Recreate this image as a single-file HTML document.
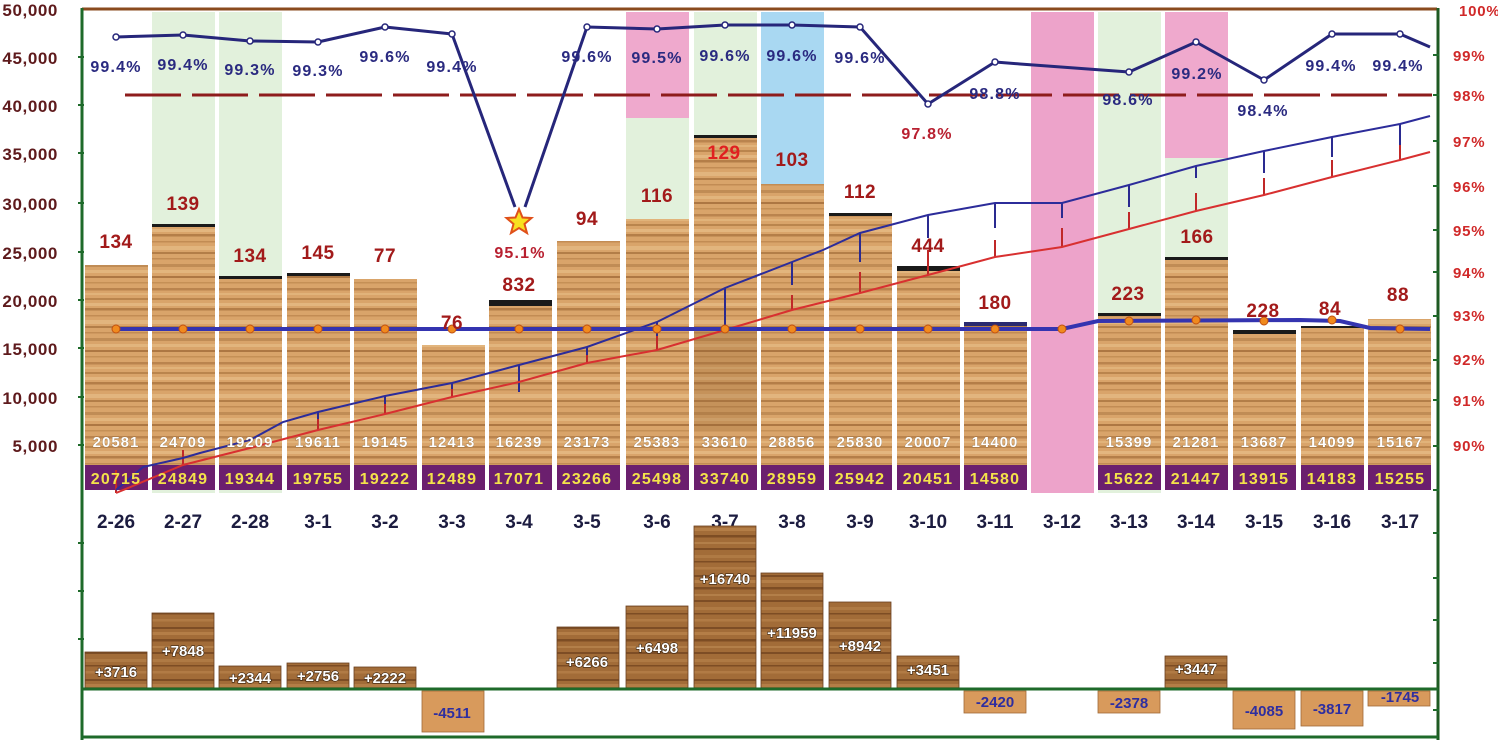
<!DOCTYPE html>
<html><head><meta charset="utf-8"><style>
html,body{margin:0;padding:0;background:#fff;}
svg{display:block;}
text{font-family:"Liberation Sans",Arial,sans-serif;font-weight:bold;}
</style></head><body>
<svg width="1498" height="741" viewBox="0 0 1498 741" xmlns="http://www.w3.org/2000/svg">
<defs>
<pattern id="w1" width="63" height="74" patternUnits="userSpaceOnUse">
<rect width="63" height="74" fill="#d9a46a"/>
<rect y="2" width="63" height="2" fill="#b07a42" opacity=".75"/>
<rect y="7" width="63" height="3" fill="#e8be88" opacity=".7"/>
<rect y="12" width="63" height="2.5" fill="#a06a36" opacity=".65"/>
<rect y="19" width="63" height="1.5" fill="#b8824a" opacity=".7"/>
<rect y="24" width="63" height="4" fill="#e6bc86" opacity=".7"/>
<rect y="30" width="63" height="2" fill="#9a6432" opacity=".6"/>
<rect y="36" width="63" height="1.5" fill="#b8824a" opacity=".7"/>
<rect y="42" width="63" height="3" fill="#a87440" opacity=".5"/>
<rect y="48" width="63" height="3" fill="#e8c08a" opacity=".6"/>
<rect y="54" width="63" height="2" fill="#9a6432" opacity=".7"/>
<rect y="60" width="63" height="1.5" fill="#b8824a" opacity=".6"/>
<rect y="66" width="63" height="2.5" fill="#a06a36" opacity=".55"/>
<rect y="71" width="63" height="2" fill="#e6bc86" opacity=".6"/>
</pattern>
<pattern id="w2" width="63" height="52" patternUnits="userSpaceOnUse">
<rect width="63" height="52" fill="#a26c38"/>
<rect y="3" width="63" height="2" fill="#6e401c" opacity=".7"/>
<rect y="8" width="63" height="3" fill="#c08a52" opacity=".6"/>
<rect y="15" width="63" height="2.5" fill="#643818" opacity=".6"/>
<rect y="22" width="63" height="2" fill="#c4925a" opacity=".5"/>
<rect y="28" width="63" height="2" fill="#6e401c" opacity=".7"/>
<rect y="35" width="63" height="3" fill="#bb8850" opacity=".5"/>
<rect y="41" width="63" height="1.5" fill="#643818" opacity=".6"/>
<rect y="47" width="63" height="2.5" fill="#c08a52" opacity=".5"/>
</pattern>
</defs>

<!-- background highlight bands -->
<g>
<rect x="152" y="12" width="63" height="481" fill="#e2f1dc"/>
<rect x="219" y="12" width="63" height="481" fill="#e2f1dc"/>
<rect x="626" y="12" width="63" height="106" fill="#efa9cd"/>
<rect x="626" y="118" width="63" height="110" fill="#e2f1dc"/>
<rect x="694" y="12" width="63" height="130" fill="#e2f1dc"/>
<rect x="761" y="12" width="63" height="175" fill="#a9d8f2"/>
<rect x="1031" y="12" width="63" height="481" fill="#eda3ca"/>
<rect x="1098" y="12" width="63" height="481" fill="#e2f1dc"/>
<rect x="1165" y="12" width="63" height="146" fill="#efa9cd"/>
<rect x="1165" y="158" width="63" height="105" fill="#e2f1dc"/>
</g>

<!-- upper axes -->
<line x1="82" y1="9" x2="1437" y2="9" stroke="#8a4a1e" stroke-width="3"/>
<line x1="82" y1="8" x2="82" y2="740" stroke="#1e6a2a" stroke-width="3"/>
<line x1="1438" y1="8" x2="1438" y2="740" stroke="#1e5a22" stroke-width="3"/>
<g stroke="#1e6a2a" stroke-width="2">
<line x1="78" y1="57" x2="84" y2="57"/><line x1="78" y1="105" x2="84" y2="105"/>
<line x1="78" y1="153" x2="84" y2="153"/><line x1="78" y1="203" x2="84" y2="203"/>
<line x1="78" y1="252" x2="84" y2="252"/><line x1="78" y1="300" x2="84" y2="300"/>
<line x1="78" y1="348" x2="84" y2="348"/><line x1="78" y1="397" x2="84" y2="397"/>
<line x1="78" y1="445" x2="84" y2="445"/>
<line x1="78" y1="543" x2="84" y2="543"/><line x1="78" y1="591" x2="84" y2="591"/><line x1="78" y1="639" x2="84" y2="639"/>
<line x1="1433" y1="55" x2="1439" y2="55"/><line x1="1433" y1="95" x2="1439" y2="95"/>
<line x1="1433" y1="141" x2="1439" y2="141"/><line x1="1433" y1="186" x2="1439" y2="186"/>
<line x1="1433" y1="230" x2="1439" y2="230"/><line x1="1433" y1="272" x2="1439" y2="272"/>
<line x1="1433" y1="316" x2="1439" y2="316"/><line x1="1433" y1="360" x2="1439" y2="360"/>
<line x1="1433" y1="400" x2="1439" y2="400"/><line x1="1433" y1="446" x2="1439" y2="446"/>
<line x1="1433" y1="490" x2="1439" y2="490"/>
<line x1="1433" y1="533" x2="1439" y2="533"/><line x1="1433" y1="578" x2="1439" y2="578"/>
<line x1="1433" y1="620" x2="1439" y2="620"/><line x1="1433" y1="663" x2="1439" y2="663"/>
<line x1="1433" y1="710" x2="1439" y2="710"/>
</g>

<!-- left axis labels -->
<g fill="#5e1a1c" font-size="17" text-anchor="end" letter-spacing="0.6">
<text x="58" y="16">50,000</text>
<text x="58" y="64">45,000</text>
<text x="58" y="112">40,000</text>
<text x="58" y="160">35,000</text>
<text x="58" y="210">30,000</text>
<text x="58" y="259">25,000</text>
<text x="58" y="307">20,000</text>
<text x="58" y="355">15,000</text>
<text x="58" y="404">10,000</text>
<text x="58" y="452">5,000</text>
</g>
<!-- right axis labels -->
<g fill="#d02828" font-size="15" letter-spacing="0.8">
<text x="1459" y="16">100%</text>
<text x="1453" y="61">99%</text>
<text x="1453" y="101">98%</text>
<text x="1453" y="147">97%</text>
<text x="1453" y="192">96%</text>
<text x="1453" y="236">95%</text>
<text x="1453" y="278">94%</text>
<text x="1453" y="321">93%</text>
<text x="1453" y="365">92%</text>
<text x="1453" y="406">91%</text>
<text x="1453" y="451">90%</text>
</g>

<!-- upper bars -->
<g fill="url(#w1)">
<rect x="85" y="265" width="63" height="200"/>
<rect x="152" y="225" width="63" height="240"/>
<rect x="219" y="277" width="63" height="188"/>
<rect x="287" y="274" width="63" height="191"/>
<rect x="354" y="279" width="63" height="186"/>
<rect x="422" y="345" width="63" height="120"/>
<rect x="489" y="302" width="63" height="163"/>
<rect x="557" y="241" width="63" height="224"/>
<rect x="626" y="219" width="63" height="246"/>
<rect x="694" y="136" width="63" height="329"/>
<rect x="761" y="184" width="63" height="281"/>
<rect x="829" y="214" width="63" height="251"/>
<rect x="897" y="267" width="63" height="198"/>
<rect x="964" y="324" width="63" height="141"/>
<rect x="1098" y="314" width="63" height="151"/>
<rect x="1165" y="258" width="63" height="207"/>
<rect x="1233" y="331" width="63" height="134"/>
<rect x="1301" y="327" width="63" height="138"/>
<rect x="1368" y="319" width="63" height="146"/>
</g>
<rect x="694" y="330" width="63" height="100" fill="#8a5a2a" opacity=".25"/>
<!-- caps -->
<g fill="#1a1a1a">
<rect x="152" y="224" width="63" height="3"/>
<rect x="219" y="276" width="63" height="3"/>
<rect x="287" y="273" width="63" height="3"/>
<rect x="489" y="300" width="63" height="6"/>
<rect x="694" y="135" width="63" height="3"/>
<rect x="829" y="213" width="63" height="3"/>
<rect x="897" y="266" width="63" height="5"/>
<rect x="964" y="322" width="63" height="4" fill="#2a2a70"/>
<rect x="1098" y="313" width="63" height="3"/>
<rect x="1165" y="257" width="63" height="3"/>
<rect x="1233" y="330" width="63" height="4"/>
<rect x="1301" y="326" width="63" height="2"/>
</g>
<!-- purple boxes -->
<g fill="#6b1f6e">
<rect x="85" y="465" width="63" height="25"/>
<rect x="152" y="465" width="63" height="25"/>
<rect x="219" y="465" width="63" height="25"/>
<rect x="287" y="465" width="63" height="25"/>
<rect x="354" y="465" width="63" height="25"/>
<rect x="422" y="465" width="63" height="25"/>
<rect x="489" y="465" width="63" height="25"/>
<rect x="557" y="465" width="63" height="25"/>
<rect x="626" y="465" width="63" height="25"/>
<rect x="694" y="465" width="63" height="25"/>
<rect x="761" y="465" width="63" height="25"/>
<rect x="829" y="465" width="63" height="25"/>
<rect x="897" y="465" width="63" height="25"/>
<rect x="964" y="465" width="63" height="25"/>
<rect x="1098" y="465" width="63" height="25"/>
<rect x="1165" y="465" width="63" height="25"/>
<rect x="1233" y="465" width="63" height="25"/>
<rect x="1301" y="465" width="63" height="25"/>
<rect x="1368" y="465" width="63" height="25"/>
</g>

<!-- red dashed target line -->
<line x1="125" y1="95" x2="1432" y2="95" stroke="#8e1c1c" stroke-width="3" stroke-dasharray="56,11"/>

<!-- cumulative lines with error bars -->
<g stroke-width="2">
<g stroke="#2a2a90">
<line x1="318" y1="412" x2="318" y2="419"/><line x1="385" y1="396" x2="385" y2="404"/>
<line x1="452" y1="383" x2="452" y2="389"/><line x1="519" y1="365" x2="519" y2="392"/>
<line x1="587" y1="347" x2="587" y2="355"/><line x1="657" y1="322" x2="657" y2="336"/>
<line x1="725" y1="288" x2="725" y2="328"/><line x1="792" y1="262" x2="792" y2="285"/>
<line x1="860" y1="233" x2="860" y2="262"/><line x1="928" y1="215" x2="928" y2="238"/>
<line x1="995" y1="203" x2="995" y2="228"/><line x1="1062" y1="203" x2="1062" y2="218"/>
<line x1="1129" y1="185" x2="1129" y2="207"/><line x1="1196" y1="166" x2="1196" y2="178"/>
<line x1="1264" y1="151" x2="1264" y2="173"/><line x1="1332" y1="137" x2="1332" y2="157"/>
<line x1="1400" y1="124" x2="1400" y2="145"/>
</g>
<g stroke="#c02828">
<line x1="116" y1="470" x2="116" y2="493"/><line x1="183" y1="450" x2="183" y2="465"/>
<line x1="318" y1="419" x2="318" y2="430"/><line x1="385" y1="404" x2="385" y2="414"/>
<line x1="452" y1="389" x2="452" y2="397"/><line x1="587" y1="355" x2="587" y2="363"/>
<line x1="657" y1="336" x2="657" y2="350"/><line x1="792" y1="295" x2="792" y2="310"/>
<line x1="860" y1="272" x2="860" y2="293"/><line x1="928" y1="250" x2="928" y2="275"/>
<line x1="995" y1="240" x2="995" y2="257"/><line x1="1062" y1="228" x2="1062" y2="247"/>
<line x1="1129" y1="212" x2="1129" y2="229"/><line x1="1196" y1="193" x2="1196" y2="211"/>
<line x1="1264" y1="178" x2="1264" y2="195"/><line x1="1332" y1="160" x2="1332" y2="177"/>
<line x1="1400" y1="145" x2="1400" y2="160"/>
</g>
</g>
<polyline fill="none" stroke="#d83030" stroke-width="2" points="116,493 183,465 250,448 318,430 385,414 452,397 519,382 587,363 657,350 725,330 792,310 860,293 928,275 995,257 1062,247 1129,229 1196,211 1264,195 1332,177 1400,160 1430,152"/>
<polyline fill="none" stroke="#2c2c9a" stroke-width="2" points="116,490 143,467 183,458 200,453 250,440 283,422 318,412 385,396 452,383 519,365 587,347 657,322 725,288 792,262 823,250 860,233 928,215 995,203 1062,203 1129,185 1196,166 1264,151 1332,137 1400,124 1430,116"/>

<!-- horizontal average line -->
<polyline fill="none" stroke="#3434b0" stroke-width="4" points="116,329 1062,329 1098,321 1300,320 1340,321 1370,328 1430,329"/>
<g fill="#f08a1e" stroke="#c05010" stroke-width="1">
<circle cx="116" cy="329" r="4"/><circle cx="183" cy="329" r="4"/><circle cx="250" cy="329" r="4"/>
<circle cx="318" cy="329" r="4"/><circle cx="385" cy="329" r="4"/><circle cx="452" cy="329" r="4"/>
<circle cx="519" cy="329" r="4"/><circle cx="587" cy="329" r="4"/><circle cx="657" cy="329" r="4"/>
<circle cx="725" cy="329" r="4"/><circle cx="792" cy="329" r="4"/><circle cx="860" cy="329" r="4"/>
<circle cx="928" cy="329" r="4"/><circle cx="995" cy="329" r="4"/><circle cx="1062" cy="329" r="4"/>
<circle cx="1129" cy="321" r="4"/><circle cx="1196" cy="320" r="4"/><circle cx="1264" cy="321" r="4"/>
<circle cx="1332" cy="320" r="4"/><circle cx="1400" cy="329" r="4"/>
</g>

<!-- percentage line -->
<polyline fill="none" stroke="#26267a" stroke-width="3" stroke-linejoin="round" points="116,37 183,35 250,41 318,42 385,27 452,34 515,207"/>
<polyline fill="none" stroke="#26267a" stroke-width="3" stroke-linejoin="round" points="525,207 587,27 657,29 725,25 792,25 860,27 928,104 995,62 1020,64 1129,72 1196,42 1264,80 1332,34 1400,34 1430,47"/>
<g fill="#fff" stroke="#26267a" stroke-width="1.5">
<circle cx="116" cy="37" r="3"/><circle cx="183" cy="35" r="3"/><circle cx="250" cy="41" r="3"/>
<circle cx="318" cy="42" r="3"/><circle cx="385" cy="27" r="3"/><circle cx="452" cy="34" r="3"/>
<circle cx="587" cy="27" r="3"/><circle cx="657" cy="29" r="3"/><circle cx="725" cy="25" r="3"/>
<circle cx="792" cy="25" r="3"/><circle cx="860" cy="27" r="3"/><circle cx="928" cy="104" r="3"/>
<circle cx="995" cy="62" r="3"/><circle cx="1129" cy="72" r="3"/><circle cx="1196" cy="42" r="3"/>
<circle cx="1264" cy="80" r="3"/><circle cx="1332" cy="34" r="3"/><circle cx="1400" cy="34" r="3"/>
</g>
<!-- star -->
<polygon points="519,209 522.5,217.5 531.5,218 524.5,224 527,233 519,228 511,233 513.5,224 506.5,218 515.5,217.5" fill="#f8e020" stroke="#e0501a" stroke-width="2"/>

<!-- percentage labels -->
<g fill="#2a2a80" font-size="16" text-anchor="middle" letter-spacing="1.2">
<text x="116" y="72">99.4%</text>
<text x="183" y="70">99.4%</text>
<text x="250" y="75">99.3%</text>
<text x="318" y="76">99.3%</text>
<text x="385" y="62">99.6%</text>
<text x="452" y="72">99.4%</text>
<text x="587" y="62">99.6%</text>
<text x="657" y="63">99.5%</text>
<text x="725" y="61">99.6%</text>
<text x="792" y="61">99.6%</text>
<text x="860" y="63">99.6%</text>
<text x="995" y="99">98.8%</text>
<text x="1128" y="105">98.6%</text>
<text x="1197" y="79">99.2%</text>
<text x="1263" y="116">98.4%</text>
<text x="1331" y="71">99.4%</text>
<text x="1398" y="71">99.4%</text>
</g>
<g fill="#b82030" font-size="16" text-anchor="middle" letter-spacing="1.2">
<text x="520" y="258">95.1%</text>
<text x="927" y="139">97.8%</text>
</g>

<!-- red counts -->
<g fill="#a21a1a" font-size="19" text-anchor="middle" letter-spacing="0.5">
<text x="116" y="248">134</text>
<text x="183" y="210">139</text>
<text x="250" y="262">134</text>
<text x="318" y="259">145</text>
<text x="385" y="262">77</text>
<text x="452" y="329">76</text>
<text x="519" y="291">832</text>
<text x="587" y="225">94</text>
<text x="657" y="202">116</text>
<text x="724" y="159" fill="#e02020">129</text>
<text x="792" y="166">103</text>
<text x="860" y="198">112</text>
<text x="928" y="252">444</text>
<text x="995" y="309">180</text>
<text x="1128" y="300">223</text>
<text x="1197" y="243">166</text>
<text x="1263" y="317">228</text>
<text x="1330" y="315">84</text>
<text x="1398" y="301">88</text>
</g>

<!-- white numbers in bars -->
<g fill="#ffffff" font-size="15" text-anchor="middle" letter-spacing="1" stroke="#8a6a40" stroke-width="0.6" paint-order="stroke">
<text x="116" y="447">20581</text><text x="183" y="447">24709</text><text x="250" y="447">19209</text>
<text x="318" y="447">19611</text><text x="385" y="447">19145</text><text x="452" y="447">12413</text>
<text x="519" y="447">16239</text><text x="587" y="447">23173</text><text x="657" y="447">25383</text>
<text x="725" y="447">33610</text><text x="792" y="447">28856</text><text x="860" y="447">25830</text>
<text x="928" y="447">20007</text><text x="995" y="447">14400</text><text x="1129" y="447">15399</text>
<text x="1196" y="447">21281</text><text x="1264" y="447">13687</text><text x="1332" y="447">14099</text>
<text x="1400" y="447">15167</text>
</g>
<!-- yellow numbers -->
<g fill="#f4e24a" font-size="16" text-anchor="middle" letter-spacing="1.2">
<text x="116" y="484">20715</text><text x="183" y="484">24849</text><text x="250" y="484">19344</text>
<text x="318" y="484">19755</text><text x="385" y="484">19222</text><text x="452" y="484">12489</text>
<text x="519" y="484">17071</text><text x="587" y="484">23266</text><text x="657" y="484">25498</text>
<text x="725" y="484">33740</text><text x="792" y="484">28959</text><text x="860" y="484">25942</text>
<text x="928" y="484">20451</text><text x="995" y="484">14580</text><text x="1129" y="484">15622</text>
<text x="1196" y="484">21447</text><text x="1264" y="484">13915</text><text x="1332" y="484">14183</text>
<text x="1400" y="484">15255</text>
</g>

<!-- x labels -->
<g fill="#1c1c40" font-size="19" text-anchor="middle">
<text x="116" y="528">2-26</text><text x="183" y="528">2-27</text><text x="250" y="528">2-28</text>
<text x="318" y="528">3-1</text><text x="385" y="528">3-2</text><text x="452" y="528">3-3</text>
<text x="519" y="528">3-4</text><text x="587" y="528">3-5</text><text x="657" y="528">3-6</text>
<text x="725" y="528">3-7</text><text x="792" y="528">3-8</text><text x="860" y="528">3-9</text>
<text x="928" y="528">3-10</text><text x="995" y="528">3-11</text><text x="1062" y="528">3-12</text>
<text x="1129" y="528">3-13</text><text x="1196" y="528">3-14</text><text x="1264" y="528">3-15</text>
<text x="1332" y="528">3-16</text><text x="1400" y="528">3-17</text>
</g>

<!-- lower chart bars -->
<g fill="url(#w2)" stroke="#6a4020" stroke-width="0.8">
<rect x="85" y="652" width="62" height="36"/>
<rect x="152" y="613" width="62" height="75"/>
<rect x="219" y="666" width="62" height="22"/>
<rect x="287" y="663" width="62" height="25"/>
<rect x="354" y="667" width="62" height="21"/>
<rect x="557" y="627" width="62" height="61"/>
<rect x="626" y="606" width="62" height="82"/>
<rect x="694" y="526" width="62" height="162"/>
<rect x="761" y="573" width="62" height="115"/>
<rect x="829" y="602" width="62" height="86"/>
<rect x="897" y="656" width="62" height="32"/>
<rect x="1165" y="656" width="62" height="32"/>
</g>
<g fill="#d89a5c" stroke="#a06a38" stroke-width="0.8">
<rect x="422" y="691" width="62" height="41"/>
<rect x="964" y="691" width="62" height="22"/>
<rect x="1098" y="691" width="62" height="22"/>
<rect x="1233" y="691" width="62" height="38"/>
<rect x="1301" y="691" width="62" height="35"/>
<rect x="1368" y="691" width="62" height="15"/>
</g>
<line x1="82" y1="689" x2="1438" y2="689" stroke="#1e6a2a" stroke-width="3"/>
<line x1="82" y1="737" x2="1438" y2="737" stroke="#1e6a2a" stroke-width="3"/>

<g fill="#ffffff" font-size="15" text-anchor="middle" stroke="#3a2410" stroke-width="1.2" paint-order="stroke">
<text x="116" y="677">+3716</text><text x="183" y="656">+7848</text><text x="250" y="683">+2344</text>
<text x="318" y="681">+2756</text><text x="385" y="683">+2222</text><text x="587" y="667">+6266</text>
<text x="657" y="653">+6498</text><text x="725" y="584">+16740</text><text x="792" y="638">+11959</text>
<text x="860" y="651">+8942</text><text x="928" y="675">+3451</text><text x="1196" y="674">+3447</text>
</g>
<g fill="#2e2ea0" font-size="15" text-anchor="middle">
<text x="452" y="718">-4511</text><text x="995" y="707">-2420</text><text x="1129" y="708">-2378</text>
<text x="1264" y="716">-4085</text><text x="1332" y="714">-3817</text><text x="1400" y="702">-1745</text>
</g>
</svg>
</body></html>
